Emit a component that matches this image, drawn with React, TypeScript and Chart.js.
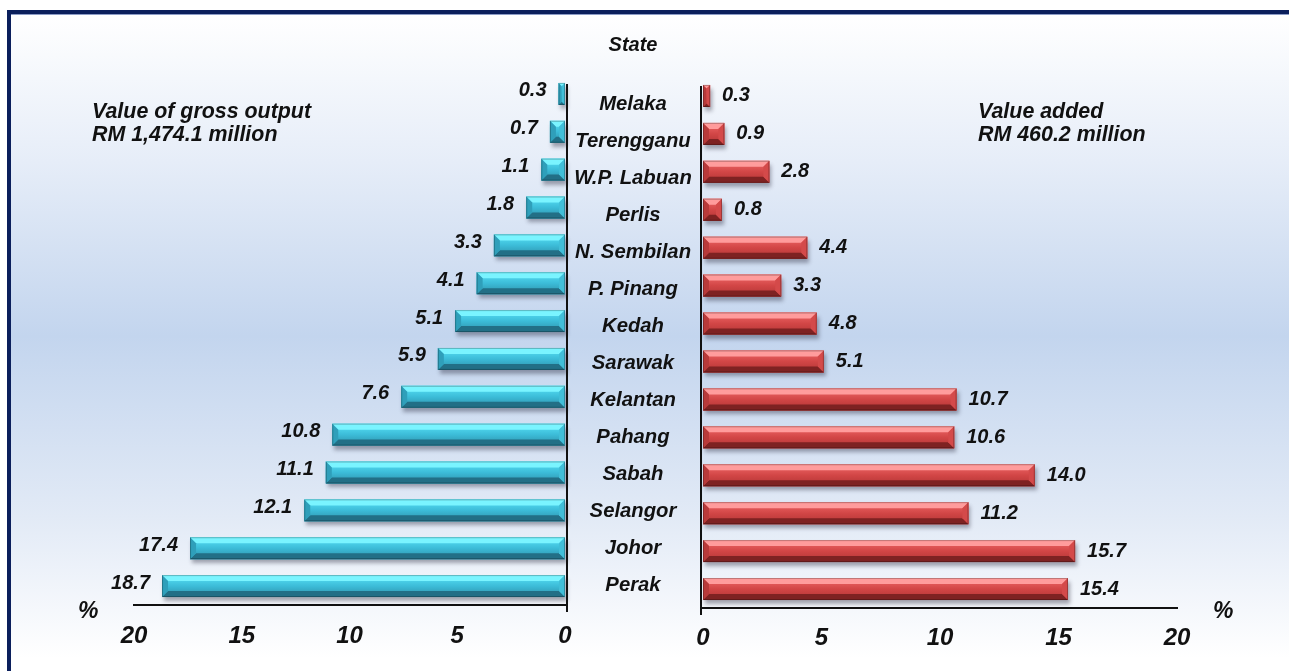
import React, { useEffect, useRef } from "react";
import { Chart, registerables } from "chart.js";

Chart.register(...registerables);

// ---------- data ----------
const states = [
  "Melaka", "Terengganu", "W.P. Labuan", "Perlis", "N. Sembilan", "P. Pinang", "Kedah",
  "Sarawak", "Kelantan", "Pahang", "Sabah", "Selangor", "Johor", "Perak",
];
const grossOutput = [0.3, 0.7, 1.1, 1.8, 3.3, 4.1, 5.1, 5.9, 7.6, 10.8, 11.1, 12.1, 17.4, 18.7];
const valueAdded = [0.3, 0.9, 2.8, 0.8, 4.4, 3.3, 4.8, 5.1, 10.7, 10.6, 14.0, 11.2, 15.7, 15.4];
const axisMin = 0;
const axisMax = 20;
const axisStep = 5;
const titleText = "State";
const leftNote = ["Value of gross output", "RM 1,474.1 million"];
const rightNote = ["Value added", "RM 460.2 million"];
const unitText = "%";

const W = 1289;
const H = 671;
const FONT = '"Liberation Sans", Arial, Helvetica, sans-serif';

type Palette = { base: string; top: string; bottom: string; sideL: string; sideR: string; g1: string; g2: string; g3: string };

const bluePal: Palette = {
  base: "#3bbcd8",
  top: "#7af4ff",
  bottom: "#226f86",
  sideL: "#2f9fba",
  sideR: "#41bed8",
  g1: "#5ae4f8",
  g2: "#3cbcd8",
  g3: "#2d8fa8",
};
const redPal: Palette = {
  base: "#d84848",
  top: "#ff9c9c",
  bottom: "#7e2222",
  sideL: "#b83a3a",
  sideR: "#d44a4a",
  g1: "#f06a6a",
  g2: "#d24646",
  g3: "#b03434",
};

function drawBevel(ctx: CanvasRenderingContext2D, l: number, t: number, r: number, b: number, p: Palette) {
  const w = r - l;
  const h = b - t;
  if (w <= 0) return;
  const bv = Math.min(6, w / 2, h / 2);
  const g = ctx.createLinearGradient(0, t, 0, b);
  g.addColorStop(0, p.g1);
  g.addColorStop(0.5, p.g2);
  g.addColorStop(1, p.g3);
  ctx.fillStyle = g;
  ctx.fillRect(l, t, w, h);
  ctx.fillStyle = p.top;
  ctx.beginPath();
  ctx.moveTo(l, t); ctx.lineTo(r, t); ctx.lineTo(r - bv, t + bv); ctx.lineTo(l + bv, t + bv); ctx.closePath();
  ctx.fill();
  ctx.fillStyle = p.bottom;
  ctx.beginPath();
  ctx.moveTo(l, b); ctx.lineTo(r, b); ctx.lineTo(r - bv, b - bv); ctx.lineTo(l + bv, b - bv); ctx.closePath();
  ctx.fill();
  ctx.fillStyle = p.sideL;
  ctx.beginPath();
  ctx.moveTo(l, t); ctx.lineTo(l + bv, t + bv); ctx.lineTo(l + bv, b - bv); ctx.lineTo(l, b); ctx.closePath();
  ctx.fill();
  ctx.fillStyle = p.sideR;
  ctx.beginPath();
  ctx.moveTo(r, t); ctx.lineTo(r - bv, t + bv); ctx.lineTo(r - bv, b - bv); ctx.lineTo(r, b); ctx.closePath();
  ctx.fill();
  ctx.strokeStyle = "rgba(0,0,0,0.25)";
  ctx.lineWidth = 1;
  ctx.strokeRect(l + 0.5, t + 0.5, w - 1, h - 1);
}

function makePlugin(side: "left" | "right", pal: Palette, values: number[]) {
  return {
    id: "decor-" + side,
    beforeDatasetsDraw(chart: any) {
      const c = chart.ctx as CanvasRenderingContext2D;
      c.save();
      c.shadowColor = "rgba(40,40,60,0.4)";
      c.shadowBlur = 4;
      c.shadowOffsetX = 2;
      c.shadowOffsetY = 4;
    },
    afterDatasetsDraw(chart: any) {
      const ctx = chart.ctx as CanvasRenderingContext2D;
      ctx.restore();
      const meta = chart.getDatasetMeta(0);
      meta.data.forEach((el: any, i: number) => {
        const p = el.getProps(["x", "y", "base", "height"], true);
        const l = Math.min(p.x, p.base);
        const r = Math.max(p.x, p.base);
        const t = p.y - p.height / 2;
        const b = p.y + p.height / 2;
        drawBevel(ctx, l, t, r, b, pal);
        ctx.save();
        ctx.font = `italic bold 20px ${FONT}`;
        ctx.fillStyle = "#111";
        ctx.textBaseline = "middle";
        const txt = values[i].toFixed(1);
        if (side === "left") {
          ctx.textAlign = "right";
          ctx.fillText(txt, l - 12, p.y - 3);
        } else {
          ctx.textAlign = "left";
          ctx.fillText(txt, r + 12, p.y);
        }
        ctx.restore();
      });
      const a = chart.chartArea;
      ctx.save();
      ctx.strokeStyle = "#111";
      ctx.lineWidth = 2;
      ctx.beginPath();
      const x = side === "left" ? a.right + 2 : a.left - 2;
      ctx.moveTo(x, a.top + 9);
      ctx.lineTo(x, a.bottom + 7);
      ctx.stroke();
      ctx.restore();
    },
  };
}

function buildChart(canvas: HTMLCanvasElement, side: "left" | "right") {
  const isLeft = side === "left";
  const values = isLeft ? grossOutput : valueAdded;
  const pal = isLeft ? bluePal : redPal;
  const padding = isLeft
    ? { left: 134, right: W - 565, top: 75, bottom: H - 605 - 50 }
    : { left: 703, right: W - 1177, top: 77, bottom: H - 608 - 50 };
  return new Chart(canvas, {
    type: "bar",
    data: {
      labels: states,
      datasets: [
        {
          data: values,
          backgroundColor: pal.base,
          borderWidth: 0,
          barPercentage: 0.58,
          categoryPercentage: 1,
          clip: false as any,
        },
      ],
    },
    options: {
      indexAxis: "y",
      responsive: false,
      animation: false,
      events: [],
      layout: { padding },
      plugins: { legend: { display: false }, tooltip: { enabled: false }, title: { display: false } },
      scales: {
        x: {
          type: "linear",
          min: axisMin,
          max: axisMax,
          reverse: isLeft,
          grid: { display: false, drawTicks: false },
          border: { display: true, color: "#111", width: 2 },
          ticks: {
            stepSize: axisStep,
            color: "#111",
            padding: isLeft ? 17 : 16,
            font: { family: FONT, size: 24, style: "italic", weight: "bold" },
          },
          afterFit(scale: any) {
            scale.height = 50;
          },
        },
        y: { type: "category", display: false },
      },
    },
    plugins: [makePlugin(side, pal, values)],
  } as any);
}

const textStyle: React.CSSProperties = {
  position: "absolute",
  fontFamily: FONT,
  fontStyle: "italic",
  fontWeight: "bold",
  color: "#111",
  whiteSpace: "nowrap",
};

export default function App() {
  const leftRef = useRef<HTMLCanvasElement>(null);
  const rightRef = useRef<HTMLCanvasElement>(null);

  useEffect(() => {
    const c1 = buildChart(leftRef.current!, "left");
    const c2 = buildChart(rightRef.current!, "right");
    return () => {
      c1.destroy();
      c2.destroy();
    };
  }, []);

  return (
    <div style={{ position: "fixed", left: 0, top: 0, width: W, height: H, background: "#fff", overflow: "hidden" }}>
      <div
        style={{
          position: "absolute",
          left: 7,
          top: 10,
          width: W,
          height: H,
          borderTop: "4px solid #0b1f5c",
          borderLeft: "4px solid #0b1f5c",
          boxShadow: "inset 0 1px 0 #8c9cc6",
          background: "linear-gradient(to bottom, #ffffff 0%, #e6edf8 22%, #c3d5ee 48%, #e2eaf6 75%, #ffffff 96%)",
        }}
      />
      <canvas ref={leftRef} width={W} height={H} style={{ position: "absolute", left: 0, top: 0 }} />
      <canvas ref={rightRef} width={W} height={H} style={{ position: "absolute", left: 0, top: 0 }} />
      <div style={{ ...textStyle, left: 533, width: 200, top: 32, textAlign: "center", fontSize: 20, lineHeight: "24px" }}>
        {titleText}
      </div>
      <div style={{ ...textStyle, left: 92, top: 100, fontSize: 21.4, lineHeight: "23px" }}>
        {leftNote.map((s) => (
          <div key={s}>{s}</div>
        ))}
      </div>
      <div style={{ ...textStyle, left: 978, top: 100, fontSize: 21.4, lineHeight: "23px" }}>
        {rightNote.map((s) => (
          <div key={s}>{s}</div>
        ))}
      </div>
      <div style={{ position: "absolute", left: 533, width: 200, top: 84.5 }}>
        {states.map((s) => (
          <div
            key={s}
            style={{
              fontFamily: FONT,
              fontStyle: "italic",
              fontWeight: "bold",
              color: "#111",
              fontSize: 20.3,
              height: 37,
              lineHeight: "37px",
              textAlign: "center",
              whiteSpace: "nowrap",
            }}
          >
            {s}
          </div>
        ))}
      </div>
      <div style={{ ...textStyle, left: 78, top: 597, fontSize: 23, lineHeight: "26px" }}>{unitText}</div>
      <div style={{ ...textStyle, left: 1213, top: 597, fontSize: 23, lineHeight: "26px" }}>{unitText}</div>
    </div>
  );
}
